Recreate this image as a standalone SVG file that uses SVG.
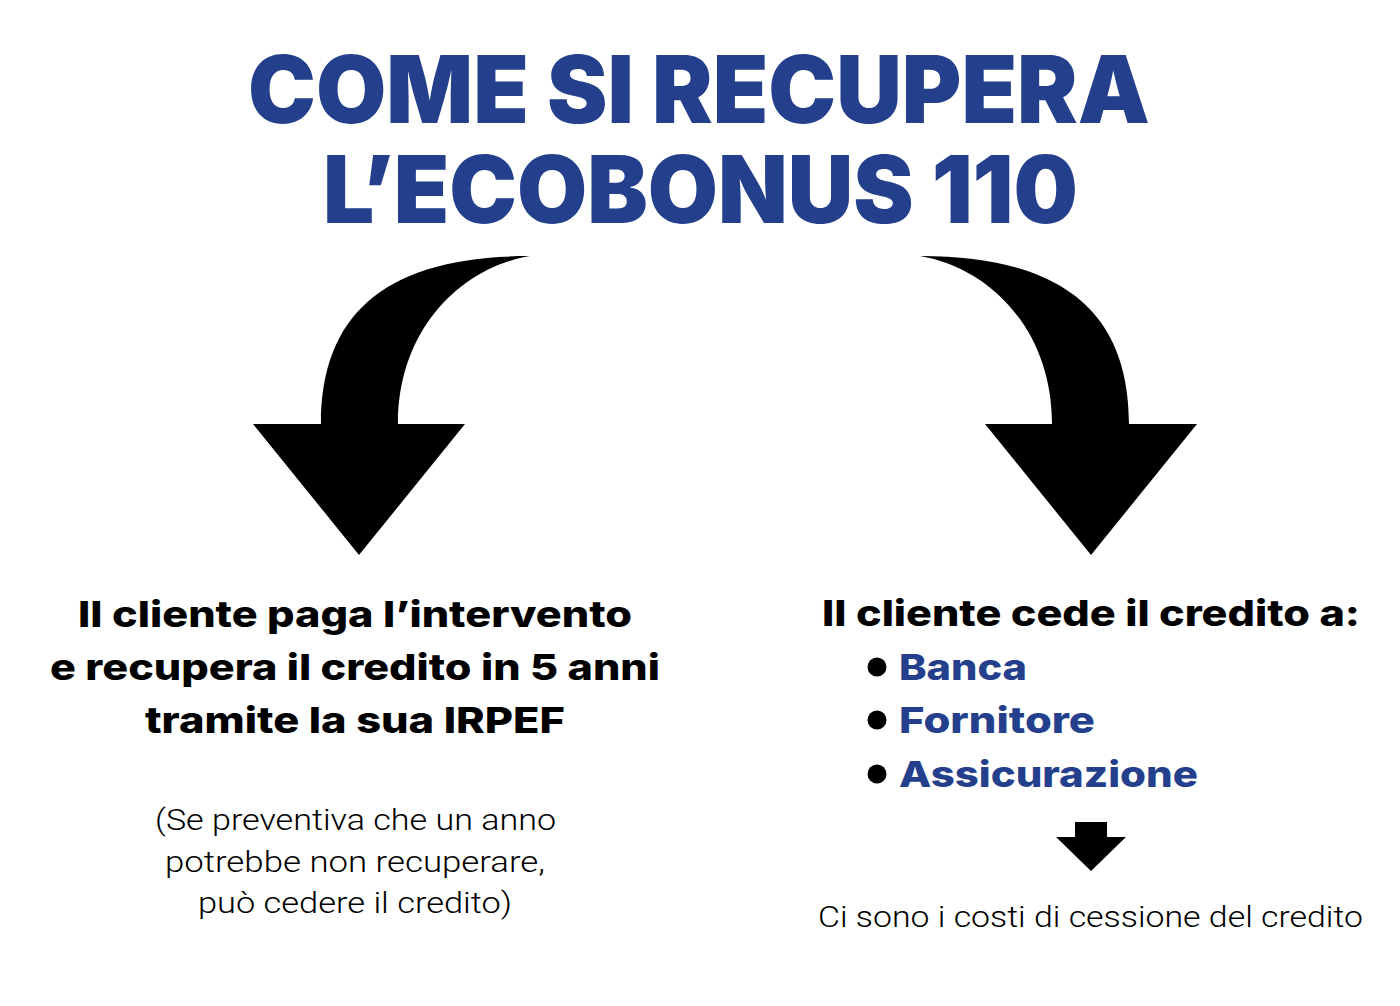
<svg xmlns="http://www.w3.org/2000/svg" xmlns:xlink="http://www.w3.org/1999/xlink" width="1400" height="1006" viewBox="0 0 1400 1006">
  <style>
    .title { font-family: Inter, "Liberation Sans", sans-serif; font-weight: 900; font-size: 93px; fill: #24408c; }
    .bold { font-family: Inter, "Liberation Sans", sans-serif; font-weight: 800; font-size: 36px; fill: #000; }
    .blue { font-family: Inter, "Liberation Sans", sans-serif; font-weight: 800; font-size: 36px; fill: #24408c; }
    .light { font-family: Roboto, "Liberation Sans", sans-serif; font-weight: 300; font-size: 30px; fill: #000; }
    .arrow { fill: #000; }
  </style>
  <defs>
    <path id="curvedArrow" d="M321,424 C321,310 390,256 530,256 C460,268 398,330 398,424 L465,424 L359,555 L253,424 Z"/>
  </defs>
  <rect width="1400" height="1006" fill="#fff"/>

  <g id="title">
    <text class="title" x="248" y="123" textLength="902" lengthAdjust="spacingAndGlyphs">COME SI RECUPERA</text>
    <text class="title" x="323" y="223" textLength="755" lengthAdjust="spacingAndGlyphs">L’ECOBONUS 110</text>
  </g>

  <g id="connectors">
    <use xlink:href="#curvedArrow" class="arrow"/>
    <use xlink:href="#curvedArrow" class="arrow" transform="translate(1450,0) scale(-1,1)"/>
    <path class="arrow" d="M1075,822 L1107,822 L1107,837 L1126,837 L1091,871 L1056,837 L1075,837 Z"/>
  </g>

  <g id="left-node">
    <text class="bold" x="78" y="627" textLength="554" lengthAdjust="spacingAndGlyphs">Il cliente paga l’intervento</text>
    <text class="bold" x="50" y="680" textLength="610" lengthAdjust="spacingAndGlyphs">e recupera il credito in 5 anni</text>
    <text class="bold" x="145" y="733" textLength="420" lengthAdjust="spacingAndGlyphs">tramite la sua IRPEF</text>
  </g>

  <g id="left-note">
    <text class="light" x="155" y="830" textLength="401" lengthAdjust="spacingAndGlyphs">(Se preventiva che un anno</text>
    <text class="light" x="165" y="872" textLength="380" lengthAdjust="spacingAndGlyphs">potrebbe non recuperare,</text>
    <text class="light" x="198" y="913" textLength="314" lengthAdjust="spacingAndGlyphs">può cedere il credito)</text>
  </g>

  <g id="right-node">
    <text class="bold" x="822" y="626" textLength="538" lengthAdjust="spacingAndGlyphs">Il cliente cede il credito a:</text>
    <circle cx="877" cy="667" r="9.5" fill="#000"/>
    <text class="blue" x="899" y="680" textLength="128" lengthAdjust="spacingAndGlyphs">Banca</text>
    <circle cx="877" cy="720" r="9.5" fill="#000"/>
    <text class="blue" x="899" y="733" textLength="196" lengthAdjust="spacingAndGlyphs">Fornitore</text>
    <circle cx="877" cy="774" r="9.5" fill="#000"/>
    <text class="blue" x="899" y="787" textLength="299" lengthAdjust="spacingAndGlyphs">Assicurazione</text>
  </g>

  <g id="right-note">
    <text class="light" x="818" y="927" textLength="545" lengthAdjust="spacingAndGlyphs">Ci sono i costi di cessione del credito</text>
  </g>
</svg>
